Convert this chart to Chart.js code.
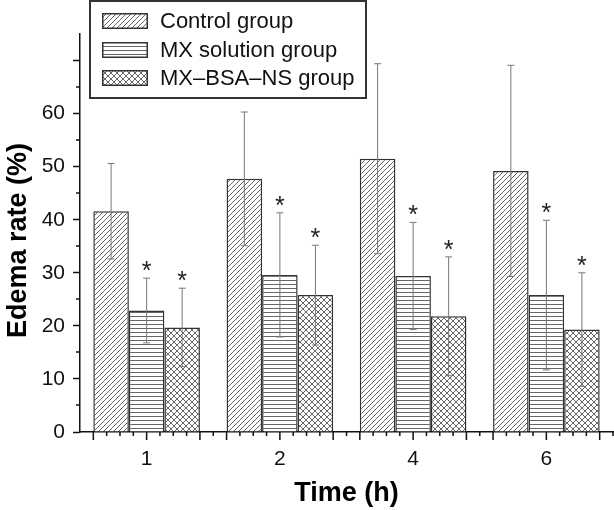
<!DOCTYPE html>
<html>
<head>
<meta charset="utf-8">
<script src="https://cdn.jsdelivr.net/npm/chart.js@4.4.0/dist/chart.umd.min.js"></script>
<style>
  html, body { margin: 0; padding: 0; background: #fff; }
  #wrap { position: relative; width: 614px; height: 510px; }
  #legend {
    position: absolute; left: 89px; top: 0px; width: 274px; height: 95px;
    border: 2px solid #333; background: #fff;
    font-family: 'Liberation Sans', Arial, sans-serif; font-size: 22px; color: #111;
  }
  .row { position: absolute; left: 11px; height: 16px; display: flex; align-items: center; white-space: nowrap; }
  .row canvas { margin-right: 12px; display: block; }
</style>
</head>
<body>
<div id="wrap">
  <canvas id="edemaChart" width="614" height="510"></canvas>
  <div id="legend"></div>
</div>
<script>
// Data
const categories = ["1", "2", "4", "6"];
const seriesNames = ["Control group", "MX solution group", "MX\u2013BSA\u2013NS group"];
const controlValues = [41.6, 47.7, 51.5, 49.2];
const controlErrors = [9.0, 12.6, 17.9, 19.9];
const mxValues = [22.9, 29.6, 29.4, 25.8];
const mxErrors = [6.1, 11.7, 10.1, 14.1];
const nsValues = [19.7, 25.8, 21.8, 19.3];
const nsErrors = [7.4, 9.4, 11.2, 10.7];
const mxStars = [true, true, true, true];
const nsStars = [true, true, true, true];
const yLabelTicks = [0, 10, 20, 30, 40, 50, 60];

const FONT = "'Liberation Sans', Arial, sans-serif";

// hatch fills
function makeTile(kind) {
    const c = document.createElement('canvas');
    const g = c.getContext('2d');
    if (kind === 'diag') {
        c.width = 5; c.height = 5;
        g.fillStyle = '#fff'; g.fillRect(0, 0, 5, 5);
        g.strokeStyle = '#555'; g.lineWidth = 0.9;
        g.beginPath();
        g.moveTo(-1, 6); g.lineTo(6, -1);
        g.moveTo(-1, 1); g.lineTo(1, -1);
        g.moveTo(4, 6); g.lineTo(6, 4);
        g.stroke();
    } else if (kind === 'horiz') {
        c.width = 4; c.height = 4;
        g.fillStyle = '#fff'; g.fillRect(0, 0, 4, 4);
        g.fillStyle = '#666'; g.fillRect(0, 0, 4, 1);
    } else {
        c.width = 6; c.height = 6;
        g.fillStyle = '#fff'; g.fillRect(0, 0, 6, 6);
        g.strokeStyle = '#555'; g.lineWidth = 0.9;
        g.beginPath();
        g.moveTo(-1, 7); g.lineTo(7, -1);
        g.moveTo(-1, -1); g.lineTo(7, 7);
        g.moveTo(-1, 1); g.lineTo(1, -1);
        g.moveTo(5, 7); g.lineTo(7, 5);
        g.moveTo(5, -1); g.lineTo(7, 1);
        g.moveTo(-1, 5); g.lineTo(1, 7);
        g.stroke();
    }
    return c;
}

const tileKinds = ['diag', 'horiz', 'cross'];
const ctxMain = document.getElementById('edemaChart').getContext('2d');
const fills = tileKinds.map(k => ctxMain.createPattern(makeTile(k), 'repeat'));

// legend (html)
const legendEl = document.getElementById('legend');
const rowTops = [11, 40, 68];
seriesNames.forEach((name, i) => {
    const row = document.createElement('div');
    row.className = 'row';
    row.style.top = rowTops[i] + 'px';
    const sw = document.createElement('canvas');
    sw.width = 46; sw.height = 16;
    const g = sw.getContext('2d');
    g.fillStyle = g.createPattern(makeTile(tileKinds[i]), 'repeat');
    g.fillRect(0, 0, 46, 16);
    g.strokeStyle = '#333'; g.lineWidth = 1.5;
    g.strokeRect(0.75, 0.75, 44.5, 14.5);
    const label = document.createElement('span');
    label.textContent = name;
    row.appendChild(sw);
    row.appendChild(label);
    legendEl.appendChild(row);
});

const errorSets = [controlErrors, mxErrors, nsErrors];
const starSets = [null, mxStars, nsStars];

const extras = {
    id: 'extras',
    afterDatasetsDraw(chart) {
        const ctx = chart.ctx;
        const yScale = chart.scales.y;
        ctx.save();
        chart.data.datasets.forEach((ds, di) => {
            const meta = chart.getDatasetMeta(di);
            meta.data.forEach((bar, i) => {
                const v = ds.data[i], e = errorSets[di][i];
                const yTop = yScale.getPixelForValue(v + e);
                const yBot = yScale.getPixelForValue(v - e);
                ctx.strokeStyle = '#777';
                ctx.lineWidth = 1;
                ctx.beginPath();
                ctx.moveTo(bar.x, yTop); ctx.lineTo(bar.x, yBot);
                ctx.moveTo(bar.x - 3.5, yTop); ctx.lineTo(bar.x + 3.5, yTop);
                ctx.moveTo(bar.x - 3.5, yBot); ctx.lineTo(bar.x + 3.5, yBot);
                ctx.stroke();
                if (starSets[di] && starSets[di][i]) {
                    ctx.fillStyle = '#222';
                    ctx.font = '25px ' + FONT;
                    ctx.textAlign = 'center';
                    ctx.textBaseline = 'alphabetic';
                    ctx.fillText('*', bar.x, yTop + 1);
                }
            });
        });
        ctx.restore();
    },
    afterDraw(chart) {
        // minor ticks
        const ctx = chart.ctx;
        const x = chart.scales.x, y = chart.scales.y;
        ctx.save();
        ctx.strokeStyle = '#111';
        ctx.lineWidth = 1.5;
        ctx.beginPath();
        for (let v = 5; v < 70; v += 10) {
            const py = Math.round(y.getPixelForValue(v));
            ctx.moveTo(x.left - 4, py); ctx.lineTo(x.left, py);
        }
        for (let i = 0; i < categories.length; i++) {
            for (let k = 1; k <= 10; k++) {
                const px = x.getPixelForValue(i - 0.5 + k * 0.1);
                const len = (k === 1 || k === 5 || k === 9) ? 8 : 4;
                ctx.moveTo(px, y.bottom); ctx.lineTo(px, y.bottom + len);
            }
        }
        ctx.stroke();
        ctx.restore();
    }
};

const edemaChart = new Chart(ctxMain, {
    type: 'bar',
    data: {
        labels: categories,
        datasets: [
            { label: seriesNames[0], data: controlValues, backgroundColor: fills[0], borderColor: '#333', borderWidth: 1.5 },
            { label: seriesNames[1], data: mxValues, backgroundColor: fills[1], borderColor: '#333', borderWidth: 1.5 },
            { label: seriesNames[2], data: nsValues, backgroundColor: fills[2], borderColor: '#333', borderWidth: 1.5 }
        ]
    },
    options: {
        responsive: false,
        animation: false,
        categoryPercentage: 0.8,
        barPercentage: 1.0,
        layout: { padding: { top: 34, right: 1, left: 0, bottom: 0 } },
        plugins: { legend: { display: false }, tooltip: { enabled: false } },
        scales: {
            x: {
                grid: { display: false },
                border: { display: true, color: '#111', width: 1.5 },
                ticks: { color: '#111', font: { family: FONT, size: 21 }, padding: 7 },
                title: { display: true, text: 'Time (h)', color: '#000',
                         font: { family: FONT, size: 27, weight: 'bold' }, padding: { top: 0, bottom: 0 } },
                afterFit: s => { s.height = 78; }
            },
            y: {
                min: 0, max: 75,
                grid: { drawOnChartArea: false, tickLength: 7, tickWidth: 1.5,
                        tickColor: c => (c.tick && c.tick.value > 70) ? 'rgba(0,0,0,0)' : '#111' },
                border: { display: true, color: '#111', width: 1.5 },
                ticks: { stepSize: 10, color: '#111', padding: 8, font: { family: FONT, size: 21 },
                         callback: v => yLabelTicks.includes(v) ? v : '' },
                title: { display: true, text: 'Edema rate (%)  ', color: '#000',
                         font: { family: FONT, size: 27, weight: 'bold' }, padding: { top: 2, bottom: 0 } },
                afterFit: s => { s.width = 80; }
            }
        }
    },
    plugins: [extras]
});
</script>
</body>
</html>
